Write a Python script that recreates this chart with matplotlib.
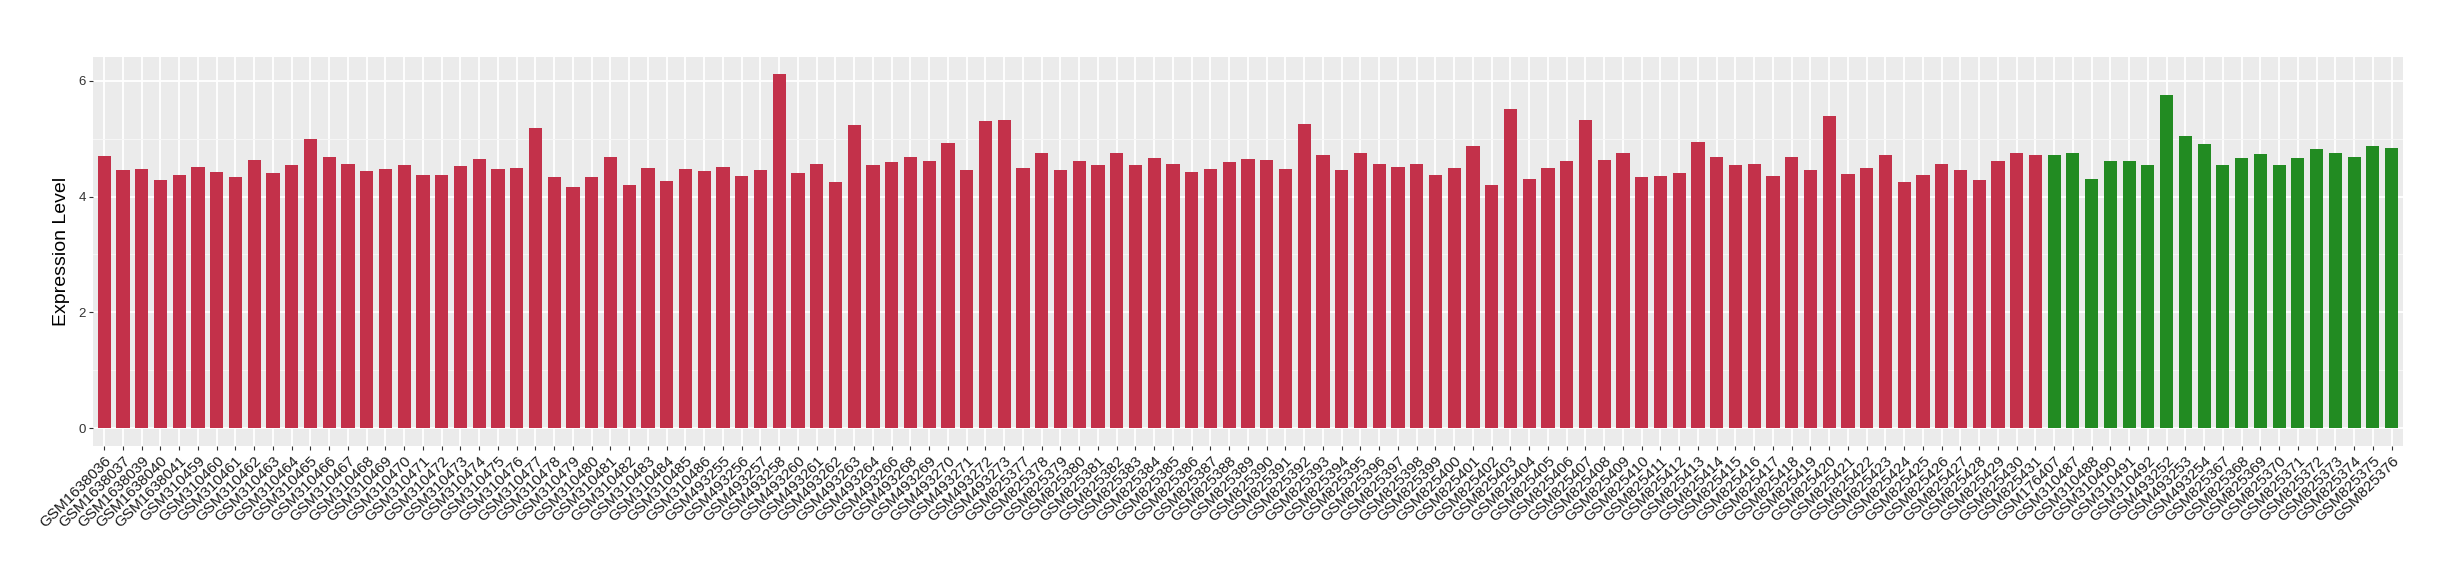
import matplotlib
matplotlib.use('Agg')
import matplotlib.pyplot as plt
import numpy as np

# samples in the first (red) group
red_samples = [
    'GSM1638036', 'GSM1638037', 'GSM1638039', 'GSM1638040', 'GSM1638041',
    'GSM310459', 'GSM310460', 'GSM310461', 'GSM310462', 'GSM310463', 'GSM310464',
    'GSM310465', 'GSM310466', 'GSM310467', 'GSM310468', 'GSM310469', 'GSM310470',
    'GSM310471', 'GSM310472', 'GSM310473', 'GSM310474', 'GSM310475', 'GSM310476',
    'GSM310477', 'GSM310478', 'GSM310479', 'GSM310480', 'GSM310481', 'GSM310482',
    'GSM310483', 'GSM310484', 'GSM310485', 'GSM310486',
    'GSM493255', 'GSM493256', 'GSM493257', 'GSM493258', 'GSM493260', 'GSM493261',
    'GSM493262', 'GSM493263', 'GSM493264', 'GSM493266', 'GSM493268', 'GSM493269',
    'GSM493270', 'GSM493271', 'GSM493272', 'GSM493273',
    'GSM825377', 'GSM825378', 'GSM825379', 'GSM825380', 'GSM825381', 'GSM825382',
    'GSM825383', 'GSM825384', 'GSM825385', 'GSM825386', 'GSM825387', 'GSM825388',
    'GSM825389', 'GSM825390', 'GSM825391', 'GSM825392', 'GSM825393', 'GSM825394',
    'GSM825395', 'GSM825396', 'GSM825397', 'GSM825398', 'GSM825399', 'GSM825400',
    'GSM825401', 'GSM825402', 'GSM825403', 'GSM825404', 'GSM825405', 'GSM825406',
    'GSM825407', 'GSM825408', 'GSM825409', 'GSM825410', 'GSM825411', 'GSM825412',
    'GSM825413', 'GSM825414', 'GSM825415', 'GSM825416', 'GSM825417', 'GSM825418',
    'GSM825419', 'GSM825420', 'GSM825421', 'GSM825422', 'GSM825423', 'GSM825424',
    'GSM825425', 'GSM825426', 'GSM825427', 'GSM825428', 'GSM825429', 'GSM825430',
    'GSM825431',
]
red_values = [
    4.70, 4.45, 4.47, 4.28, 4.37,
    4.51, 4.42, 4.33, 4.63, 4.40, 4.54, 4.99, 4.68, 4.56, 4.44, 4.47, 4.54,
    4.37, 4.37, 4.52, 4.64, 4.47, 4.49, 5.18, 4.33, 4.16, 4.33, 4.68, 4.20,
    4.49, 4.26, 4.47, 4.44,
    4.51, 4.35, 4.45, 6.11, 4.40, 4.56, 4.25, 5.23, 4.54, 4.59, 4.68, 4.61,
    4.92, 4.45, 5.30, 5.33,
    4.49, 4.75, 4.45, 4.61, 4.54, 4.76, 4.54, 4.66, 4.57, 4.42, 4.47, 4.59,
    4.64, 4.63, 4.47, 5.26, 4.71, 4.45, 4.76, 4.57, 4.51, 4.56, 4.37, 4.49,
    4.87, 4.20, 5.51, 4.30, 4.49, 4.61, 5.33, 4.63, 4.75, 4.33, 4.35, 4.40,
    4.95, 4.68, 4.54, 4.57, 4.35, 4.68, 4.45, 5.39, 4.39, 4.49, 4.71, 4.25,
    4.37, 4.57, 4.45, 4.28, 4.61, 4.75, 4.71,
]

# samples in the second (green) group
green_samples = [
    'GSM176407', 'GSM310487', 'GSM310488', 'GSM310490', 'GSM310491', 'GSM310492',
    'GSM493252', 'GSM493253', 'GSM493254', 'GSM825367', 'GSM825368', 'GSM825369',
    'GSM825370', 'GSM825371', 'GSM825372', 'GSM825373', 'GSM825374', 'GSM825375',
    'GSM825376',
]
green_values = [
    4.71, 4.75, 4.30, 4.61, 4.61, 4.54, 5.75, 5.04, 4.90, 4.54, 4.66, 4.73,
    4.54, 4.66, 4.82, 4.75, 4.68, 4.87, 4.83,
]

y_ticks = [0, 2, 4, 6]

RED = '#C3314A'
GREEN = '#228B22'

plt.rcParams['font.family'] = ['Liberation Sans', 'DejaVu Sans']

fig = plt.figure(figsize=(24.6, 5.8), dpi=100)
ax = fig.add_axes([0.0378, 0.2316, 0.9390, 0.6706])

samples = red_samples + green_samples
values = red_values + green_values
colors = [RED] * len(red_samples) + [GREEN] * len(green_samples)
x = np.arange(len(samples))

ax.set_facecolor('#EBEBEB')
ax.bar(x, values, width=0.7, color=colors, zorder=3)

ax.set_xlim(-0.6, len(samples) - 0.4)
ax.set_ylim(-0.305, 6.415)

ax.set_xticks(x)
ax.set_xticklabels(samples, rotation=45, ha='right', va='top',
                   rotation_mode='anchor', fontsize=11, color='#1a1a1a')
ax.set_yticks(y_ticks)
ax.set_yticks([1, 3, 5], minor=True)
ax.tick_params(axis='y', which='major', labelsize=9.5, labelcolor='#333333',
               length=3, width=0.8, color='#333333', pad=2)
ax.tick_params(axis='y', which='minor', length=0)
ax.tick_params(axis='x', length=3, width=0.8, color='#333333', pad=3)

ax.grid(True, which='major', color='white', linewidth=1.3, zorder=0)
ax.grid(True, which='minor', axis='y', color='#F7F7F7', linewidth=0.7, zorder=0)
ax.set_axisbelow(True)

for spine in ax.spines.values():
    spine.set_visible(False)

ax.set_ylabel('Expression Level', fontsize=14, labelpad=6)

fig.savefig('out.png', dpi=100)
